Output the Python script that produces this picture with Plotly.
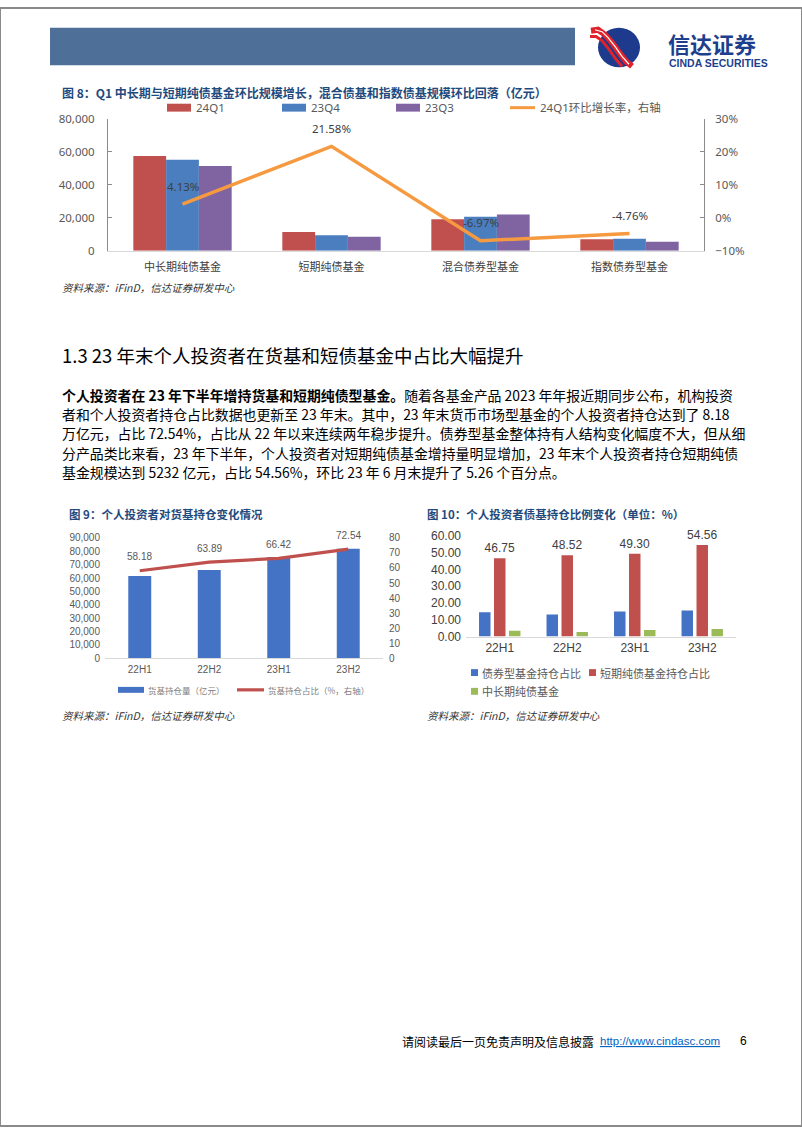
import plotly.graph_objects as go

W, H = 802, 1133


def X(px):
    return px / W


def Y(py):
    return 1 - py / H


# ---------------- data ----------------
# Figure 8
f8_categories = ["中长期纯债基金", "短期纯债基金", "混合债券型基金", "指数债券型基金"]
f8_24q1 = [57300, 11300, 19100, 6900]
f8_23q4 = [55030, 9300, 20530, 7250]
f8_23q3 = [51200, 8500, 22000, 5400]
f8_growth = [4.13, 21.58, -6.97, -4.76]
f8_names = ["24Q1", "23Q4", "23Q3", "24Q1环比增长率，右轴"]

# Figure 9
f9_periods = ["22H1", "22H2", "23H1", "23H2"]
f9_holding = [61500, 66000, 75800, 81800]
f9_share = [58.18, 63.89, 66.42, 72.54]
f9_names = ["货基持仓量（亿元）", "货基持仓占比（%，右轴）"]

# Figure 10
f10_periods = ["22H1", "22H2", "23H1", "23H2"]
f10_bond = [14.5, 13.2, 14.9, 15.5]
f10_short = [46.75, 48.52, 49.30, 54.56]
f10_mid = [3.4, 2.7, 3.9, 4.5]
f10_names = ["债券型基金持仓占比", "短期纯债基金持仓占比", "中长期纯债基金"]

# ---------------- styles ----------------
RED = "#C0504D"
BLUE = "#4A7EBF"
PURPLE = "#8064A2"
ORANGE = "#F59A40"
BLUE2 = "#4472C4"
GREEN = "#9BBB59"
TITLE_C = "#1F4A7D"
CJK = "Noto Sans CJK SC"
LAT = "Noto Sans, Noto Sans CJK SC"
ARIAL = "Liberation Sans, Noto Sans CJK SC"

fig = go.Figure()

# ---- Fig 8 traces ----
for vals, col in zip([f8_24q1, f8_23q4, f8_23q3], [RED, BLUE, PURPLE]):
    fig.add_trace(go.Bar(x=f8_categories, y=vals, marker=dict(color=col, line=dict(width=0)),
                         xaxis="x", yaxis="y", showlegend=False))
fig.add_trace(go.Scatter(x=f8_categories, y=f8_growth, mode="lines",
                         line=dict(color=ORANGE, width=3.5),
                         xaxis="x", yaxis="y2", showlegend=False))

# ---- Fig 9 traces ----
fig.add_trace(go.Bar(x=f9_periods, y=f9_holding, width=0.33,
                     marker=dict(color=BLUE2, line=dict(width=0)),
                     xaxis="x2", yaxis="y3", showlegend=False))
fig.add_trace(go.Scatter(x=f9_periods, y=f9_share, mode="lines",
                         line=dict(color=RED, width=3.2),
                         xaxis="x2", yaxis="y4", showlegend=False))

# ---- Fig 10 traces ----
bw = 0.17
fig.add_trace(go.Bar(x=f10_periods, y=f10_bond, width=bw, offset=-0.085 - 0.222,
                     marker=dict(color=BLUE2, line=dict(width=0)),
                     xaxis="x3", yaxis="y5", showlegend=False))
fig.add_trace(go.Bar(x=f10_periods, y=f10_short, width=bw, offset=-0.085,
                     marker=dict(color=RED, line=dict(width=0)),
                     text=[f"{v:.2f}" for v in f10_short], textposition="outside",
                     constraintext="none", cliponaxis=False,
                     textfont=dict(family=ARIAL, size=12, color="#404040"),
                     xaxis="x3", yaxis="y5", showlegend=False))
fig.add_trace(go.Bar(x=f10_periods, y=f10_mid, width=bw, offset=-0.085 + 0.222,
                     marker=dict(color=GREEN, line=dict(width=0)),
                     xaxis="x3", yaxis="y5", showlegend=False))

annotations = []
shapes = []

# line labels fig 8
for c, v in zip(f8_categories, f8_growth):
    annotations.append(dict(x=c, y=v, xref="x", yref="y2", text=f"{v:.2f}%", showarrow=False,
                            yshift=18, font=dict(family=LAT, size=11.5, color="#404040")))
# line labels fig 9
for c, v in zip(f9_periods, f9_share):
    annotations.append(dict(x=c, y=v, xref="x2", yref="y4", text=f"{v:.2f}", showarrow=False,
                            yshift=14, font=dict(family=ARIAL, size=10, color="#595959")))


def txt(x, y, text, size, color="#000000", family=CJK, xanchor="left", **kw):
    annotations.append(dict(x=X(x), y=Y(y), xref="paper", yref="paper", text=text,
                            showarrow=False, xanchor=xanchor, yanchor="middle",
                            font=dict(family=family, size=size, color=color), **kw))


def rect(x0, y0, x1, y1, fill, line=None, lw=0):
    shapes.append(dict(type="rect", xref="paper", yref="paper", x0=X(x0), x1=X(x1),
                       y0=Y(y1), y1=Y(y0), fillcolor=fill,
                       line=dict(color=line or fill, width=lw), layer="above"))


def hline(x0, x1, y, color, width):
    shapes.append(dict(type="line", xref="paper", yref="paper", x0=X(x0), x1=X(x1),
                       y0=Y(y), y1=Y(y), line=dict(color=color, width=width)))


def path(points, color, width):
    d = "M " + " L ".join(f"{X(px):.5f},{Y(py):.5f}" for px, py in points)
    shapes.append(dict(type="path", xref="paper", yref="paper", path=d,
                       line=dict(color=color, width=width),
                       fillcolor="rgba(0,0,0,0)"))


# ---- page border and header ----
shapes.append(dict(type="rect", xref="paper", yref="paper", x0=0, x1=1, y0=0, y1=1,
                   line=dict(color="#8a8a8a", width=2), fillcolor="rgba(0,0,0,0)"))
rect(50, 20, 575, 58, "#4D6F98")
# logo
shapes.append(dict(type="circle", xref="paper", yref="paper", x0=X(598), x1=X(640),
                   y0=Y(60), y1=Y(20), fillcolor="#1E3A8C", line=dict(width=0)))
path([(591, 23), (598, 22), (605, 27), (612, 35), (619, 45), (626, 54), (632, 59)], "#E0222B", 6)
path([(595, 22), (602, 24), (608, 30), (615, 39), (622, 49), (629, 57)], "#FFFFFF", 1.2)
path([(590, 29), (596, 29), (602, 33), (609, 42), (616, 52), (622, 59)], "#E0222B", 3)
txt(666, 35, "<b>信达证券</b>", 22, "#1E3F8E")
txt(667, 56, "<b>CINDA SECURITIES</b>", 10.5, "#1E3F8E", family=ARIAL)

# ---- Fig 8 title / legend / source ----
txt(60, 86, "<b>图 8：Q1 中长期与短期纯债基金环比规模增长，混合债基和指数债基规模环比回落（亿元）</b>", 12, TITLE_C)
leg8_x = [167, 282, 396]
for lx, col, name in zip(leg8_x, [RED, BLUE, PURPLE], f8_names[:3]):
    rect(lx, 97, lx + 24, 105, col)
    txt(lx + 27, 101, name, 11.5, "#595959", family=LAT)
hline(510, 535, 101, ORANGE, 3)
txt(538, 101, f8_names[3], 11.5, "#595959", family=LAT)
txt(60, 283, "<i>资料来源：iFinD，信达证券研发中心</i>", 10.5, "#333333")

# ---- Section heading & paragraph ----
txt(60, 352, "1.3 23 年末个人投资者在货基和短债基金中占比大幅提升", 18.5, "#000000")
para = [
    "<b>个人投资者在 23 年下半年增持货基和短期纯债型基金。</b>随着各基金产品 2023 年年报近期同步公布，机构投资",
    "者和个人投资者持仓占比数据也更新至 23 年末。其中，23 年末货币市场型基金的个人投资者持仓达到了 8.18",
    "万亿元，占比 72.54%，占比从 22 年以来连续两年稳步提升。债券型基金整体持有人结构变化幅度不大，但从细",
    "分产品类比来看，23 年下半年，个人投资者对短期纯债基金增持量明显增加，23 年末个人投资者持仓短期纯债",
    "基金规模达到 5232 亿元，占比 54.56%，环比 23 年 6 月末提升了 5.26 个百分点。",
]
for i, line in enumerate(para):
    txt(60, 392 + i * 19.5, line, 13.9, "#000000")

# ---- Fig 9 title / legend / source ----
txt(67, 513, "<b>图 9：个人投资者对货基持仓变化情况</b>", 11.5, TITLE_C)
rect(118, 688, 144, 694, BLUE2)
txt(146, 691, f9_names[0], 8.5, "#7F7F7F")
hline(237, 264, 691, RED, 3.2)
txt(266, 691, f9_names[1], 8.5, "#7F7F7F")
txt(60, 717, "<i>资料来源：iFinD，信达证券研发中心</i>", 10.5, "#333333")

# ---- Fig 10 title / legend / source ----
txt(425, 513, "<b>图 10：个人投资者债基持仓比例变化（单位：%）</b>", 11.5, TITLE_C)
rect(471, 670, 478, 677, BLUE2)
txt(480, 673.5, f10_names[0], 11, "#595959")
rect(589, 670, 596, 677, RED)
txt(598, 673.5, f10_names[1], 11, "#595959")
rect(471, 689, 478, 696, GREEN)
txt(480, 692.5, f10_names[2], 11, "#595959")
txt(425, 717, "<i>资料来源：iFinD，信达证券研发中心</i>", 10.5, "#333333")

# ---- footer ----
txt(400, 1047, "请阅读最后一页免责声明及信息披露", 12, "#000000")
txt(598, 1047, "<u>http://www.cindasc.com</u>", 11.5, "#0563C1", family=ARIAL)
txt(738, 1047, "6", 12, "#000000", family=ARIAL)

axis_common = dict(showgrid=False, zeroline=False, fixedrange=True)

fig.update_layout(
    width=W, height=H,
    margin=dict(l=0, r=0, t=0, b=0),
    paper_bgcolor="white", plot_bgcolor="rgba(0,0,0,0)",
    font=dict(family=LAT),
    barmode="group", bargap=0.34, bargroupgap=0,
    showlegend=False,
    xaxis=dict(domain=[X(108), X(704)], anchor="y", showline=True, linecolor="#D9D9D9",
               linewidth=1, ticks="", tickfont=dict(family=CJK, size=11, color="#404040"),
               ticklabelstandoff=6, **axis_common),
    yaxis=dict(domain=[Y(246), Y(112)], anchor="x", range=[0, 80000], dtick=20000,
               tickformat=",", showline=True, linecolor="#8C8C8C", ticks="inside",
               ticklen=4, tickcolor="#8C8C8C", tickfont=dict(family=LAT, size=11.5, color="#595959"),
               ticklabelstandoff=10, **axis_common),
    yaxis2=dict(overlaying="y", side="right", anchor="x", range=[-10, 30], dtick=10,
                ticksuffix="%", showline=True, linecolor="#8C8C8C", ticks="inside",
                ticklen=4, tickcolor="#8C8C8C", tickfont=dict(family=LAT, size=11.5, color="#595959"),
                ticklabelstandoff=8, **axis_common),
    xaxis2=dict(domain=[X(105), X(383)], anchor="y3", showline=True, linecolor="#D9D9D9",
                ticks="", tickfont=dict(family=ARIAL, size=10, color="#595959"),
                ticklabelstandoff=2, **axis_common),
    yaxis3=dict(domain=[Y(659), Y(537)], anchor="x2", range=[0, 90000], dtick=10000,
                tickformat=",", showline=False, ticks="",
                tickfont=dict(family=ARIAL, size=10, color="#595959"),
                ticklabelstandoff=4, **axis_common),
    yaxis4=dict(overlaying="y3", side="right", anchor="x2", range=[0, 80], dtick=10,
                showline=False, ticks="", tickfont=dict(family=ARIAL, size=10, color="#595959"),
                ticklabelstandoff=5, **axis_common),
    xaxis3=dict(domain=[X(466), X(736)], anchor="y5", showline=True, linecolor="#D9D9D9",
                ticks="", tickfont=dict(family=ARIAL, size=12, color="#404040"),
                ticklabelstandoff=0, **axis_common),
    yaxis5=dict(domain=[Y(637), Y(535)], anchor="x3", range=[0, 60], dtick=10,
                tickformat=".2f", showline=False, ticks="",
                tickfont=dict(family=ARIAL, size=12, color="#404040"),
                ticklabelstandoff=4, **axis_common),
    annotations=annotations,
    shapes=shapes,
)

fig.write_html("out.html")
